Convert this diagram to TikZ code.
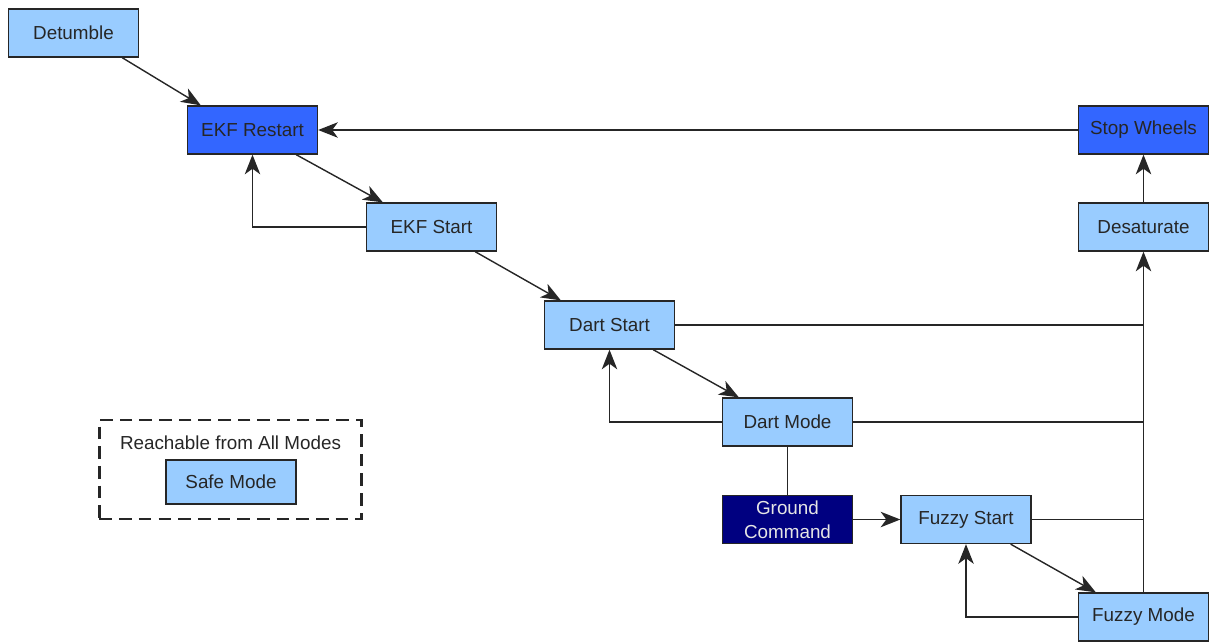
\documentclass[tikz,border=0pt]{standalone}
\usepackage{fontspec}
\setmainfont{Liberation Sans}
\usetikzlibrary{arrows.meta,calc}
\definecolor{lightb}{HTML}{99CCFF}
\definecolor{midb}{HTML}{3366FF}
\definecolor{navyb}{HTML}{000080}
\tikzset{
  mode/.style={draw=black!85,line width=0.9pt,fill=lightb,minimum width=3.25cm,minimum height=1.2cm,inner sep=0pt,font=\fontsize{13.4}{15.5}\selectfont,text=black!85,align=center},
  hot/.style={mode,fill=midb},
  gnd/.style={mode,fill=navyb,text=white!90!black},
  conn/.style={draw=black!85,line width=1pt},
  arr/.style={conn,-{Stealth[length=14pt,width=11pt,inset=4pt]}},
}
\begin{document}
\begin{tikzpicture}[x=0.025cm,y=-0.025cm]
\useasboundingbox (0,0) rectangle (1210,641);
\node[mode] (detumble) at (73.5,33) {Detumble};
\node[hot] (ekfrestart) at (252.5,130) {EKF Restart};
\node[mode] (ekfstart) at (431.5,227) {EKF Start};
\node[mode] (dartstart) at (609.5,325) {Dart Start};
\node[mode] (dartmode) at (787.5,422) {Dart Mode};
\node[gnd,font=\fontsize{13.4}{17}\selectfont] (ground) at (787.5,519.5) {Ground\\Command};
\node[mode] (fuzzystart) at (966,519.5) {Fuzzy Start};
\node[mode] (fuzzymode) at (1143.5,617) {Fuzzy Mode};
\node[mode] (desat) at (1143.5,227) {Desaturate};
\node[hot] (stopw) at (1143.5,130) {Stop Wheels};
% safe mode group
\node[draw=black!85,line width=1.6pt,dash pattern=on 9pt off 5pt,minimum width=6.55cm,minimum height=2.48cm] (safegroup) at (230.5,469.5) {};
\node[font=\fontsize{13.4}{15.5}\selectfont,text=black!85] (reach) at (230.5,443) {Reachable from All Modes};
\node[mode,minimum height=1.1cm] (safe) at (231,482) {Safe Mode};
% connectors
\draw[arr] ($(detumble.south east)+(-17,0)$) -- ($(ekfrestart.north west)+(14,0)$);
\draw[arr] ($(ekfrestart.south east)+(-22,0)$) -- ($(ekfstart.north west)+(17,0)$);
\draw[arr] (ekfstart.west) -| (ekfrestart.south);
\draw[arr] ($(ekfstart.south east)+(-22,0)$) -- ($(dartstart.north west)+(17,0)$);
\draw[arr] ($(dartstart.south east)+(-22,0)$) -- ($(dartmode.north west)+(17,0)$);
\draw[arr] (dartmode.west) -| (dartstart.south);
\draw[conn] (dartmode.south) -- (ground.north);
\draw[arr] (ground.east) -- (fuzzystart.west);
\draw[arr] ($(fuzzystart.south east)+(-21,0)$) -- ($(fuzzymode.north west)+(18,0)$);
\draw[arr] (fuzzymode.west) -| (fuzzystart.south);
\draw[arr] (fuzzymode.north) -- (desat.south);
\draw[conn] (dartstart.east) -- (dartstart.east -| fuzzymode.north);
\draw[conn] (dartmode.east) -- (dartmode.east -| fuzzymode.north);
\draw[conn] (fuzzystart.east) -- (fuzzystart.east -| fuzzymode.north);
\draw[arr] (desat.north) -- (stopw.south);
\draw[arr] (stopw.west) -- (ekfrestart.east);
\end{tikzpicture}
\end{document}
